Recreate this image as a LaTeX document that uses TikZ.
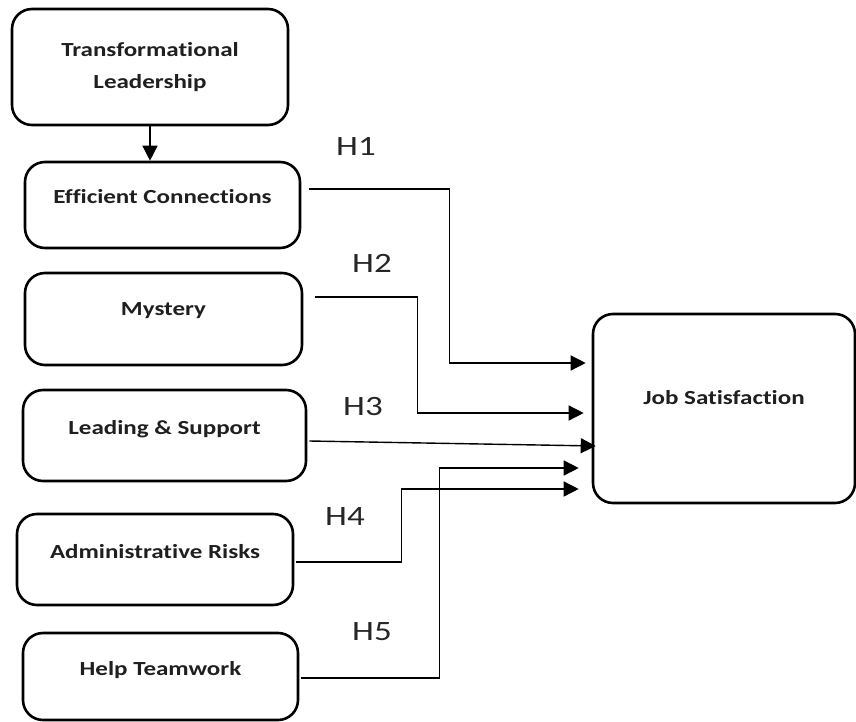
\documentclass[tikz,border=0pt]{standalone}
\usepackage{fontspec}
\setmainfont{Carlito}[FakeStretch=1.25, Ligatures=NoCommon]
\usetikzlibrary{arrows.meta,calc}
\tikzset{
  box/.style={draw, line width=2.6pt, rounded corners=20pt, inner sep=0pt, font=\bfseries\fontsize{20}{24}\selectfont, text height=13pt, text=black!88},
  up/.style={text depth=2*#1 pt},
  conn/.style={line width=1.4pt, -{Triangle[length=15pt,width=15pt]}},
  hlab/.style={font=\fontsize{28}{30}\selectfont, inner sep=0pt, text=black!85}
}
\begin{document}
\begin{tikzpicture}[x=1pt,y=-1pt]
\useasboundingbox (0,0) rectangle (856,722);
\node[box, minimum width=276pt, minimum height=116pt, align=center, text height=, font=\bfseries\fontsize{20}{32}\selectfont, text depth=4pt] (TL) at (150,67) {Transformational\\Leadership};
\node[box, up=8, minimum width=275pt, minimum height=86pt] (EC) at (162.5,205) {Efficient Connections};
\node[box, up=10, minimum width=277pt, minimum height=92pt] (MY) at (163.5,319) {Mystery};
\node[box, up=8, minimum width=283pt, minimum height=91pt] (LS) at (164.5,435.5) {Leading \& Support};
\node[box, up=8, minimum width=276pt, minimum height=91pt] (AR) at (155,559.5) {Administrative Risks};
\node[box, up=8, minimum width=275pt, minimum height=87pt] (HT) at (160.5,676.5) {Help Teamwork};
\node[box, up=11, minimum width=262pt, minimum height=189pt] (JS) at (724,408.5) {Job Satisfaction};

\node[hlab] (h1) at (356,146) {H1};
\node[hlab] (h2) at (372,263) {H2};
\node[hlab] (h3) at (363,407) {H3};
\node[hlab] (h4) at (345,517) {H4};
\node[hlab] (h5) at (372,632) {H5};

\draw[conn] (TL.south) -- (TL.south |- EC.north);

\coordinate (s1) at ($(EC.east)+(8,-16)$);
\coordinate (e1) at ($(JS.west)+(-6,-45.5)$);
\draw[conn] (s1) -- ++(140,0) |- (e1);

\coordinate (s2) at ($(MY.east)+(12,-22)$);
\coordinate (e2) at ($(JS.west)+(-8,4.5)$);
\draw[conn] (s2) -- ++(102,0) |- (e2);

\coordinate (s3) at ($(LS.east)+(2,5.5)$);
\coordinate (e3) at ($(JS.west)+(4,37.5)$);
\draw[conn] (s3) -- (e3);

\coordinate (s4) at ($(AR.east)+(2,2.5)$);
\coordinate (e4) at ($(JS.west)+(-13,80.5)$);
\draw[conn] (s4) -- ++(105,0) |- (e4);

\coordinate (s5) at ($(HT.east)+(2,1.5)$);
\coordinate (e5) at ($(JS.west)+(-13,59.5)$);
\draw[conn] (s5) -- ++(138,0) |- (e5);
\end{tikzpicture}
\end{document}
